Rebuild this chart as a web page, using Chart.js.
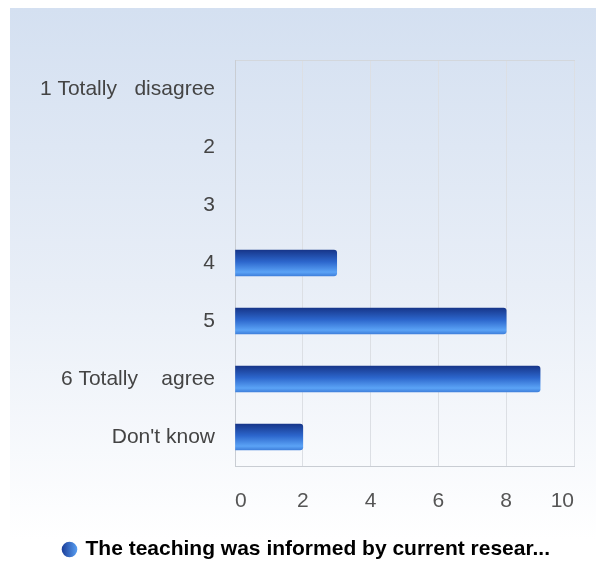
<!DOCTYPE html>
<html>
<head>
<meta charset="utf-8">
<script src="https://cdn.jsdelivr.net/npm/chart.js@4/dist/chart.umd.min.js"></script>
<style>
  html, body { margin: 0; padding: 0; background: #ffffff; overflow: hidden; }
  #bg {
    position: absolute; left: 10px; top: 8px; width: 586px; height: 554px;
    background: linear-gradient(to bottom, #d4e0f1 0%, #e8eef7 50%, #ffffff 96%);
  }
  #chart { position: absolute; left: 0; top: 0; }
</style>
</head>
<body>
<div id="bg"></div>
<canvas id="chart" width="596" height="562"></canvas>
<script>
// data
const categories = ['1 Totally   disagree', '2', '3', '4', '5', '6 Totally    agree', "Don't know"];
const counts = [0, 0, 0, 3, 8, 9, 2];
const seriesName = 'The teaching was informed by current resear...';
const xTicks = [0, 2, 4, 6, 8, 10];

const fontFam = '"Liberation Sans", Arial, sans-serif';

// gradient per bar, built from the y scale position of that row
function barFill(ctx) {
    const chart = ctx.chart;
    const yScale = chart.scales.y;
    if (ctx.raw === 0) return 'rgba(0,0,0,0)';
    if (!yScale || ctx.dataIndex === undefined) return '#2f6fd8';
    const c = yScale.getPixelForValue(ctx.dataIndex);
    const g = chart.ctx.createLinearGradient(0, c - 13, 0, c + 13);
    g.addColorStop(0, '#17368a');
    g.addColorStop(0.45, '#2c66cc');
    g.addColorStop(0.85, '#5ba3f6');
    g.addColorStop(1, '#3f80dc');
    return g;
}

const chart = new Chart(document.getElementById('chart'), {
    type: 'bar',
    data: {
        labels: categories,
        datasets: [{
            label: seriesName,
            data: counts,
            backgroundColor: barFill,
            borderWidth: 0,
            borderRadius: 3,
            barThickness: 26
        }]
    },
    options: {
        indexAxis: 'y',
        responsive: false,
        animation: false,
        layout: { padding: { top: 60, right: 22, left: 40, bottom: -8 } },
        plugins: {
            tooltip: { enabled: false },
            legend: {
                position: 'bottom',
                labels: {
                    usePointStyle: true,
                    pointStyle: 'circle',
                    boxWidth: 11,
                    boxHeight: 11,
                    padding: 18,
                    color: '#333333',
                    font: { family: fontFam, size: 21, weight: 'bold' },
                    generateLabels: (c) => {
                        const g = c.ctx.createLinearGradient(62, 0, 78, 0);
                        g.addColorStop(0, '#1c3f9a');
                        g.addColorStop(1, '#5ba3f6');
                        return [{
                            text: seriesName,
                            fillStyle: g,
                            strokeStyle: 'rgba(0,0,0,0)',
                            lineWidth: 0,
                            pointStyle: 'circle',
                            datasetIndex: 0,
                            hidden: false
                        }];
                    }
                }
            }
        },
        scales: {
            x: {
                min: 0,
                max: 10,
                afterBuildTicks: (s) => { s.ticks = xTicks.map(v => ({ value: v })); },
                afterFit: (s) => { s.height = 55; },
                grid: { color: '#dcdfe4', drawTicks: true, tickLength: 22, tickColor: 'rgba(0,0,0,0)' },
                border: { color: '#c9cdd3' },
                ticks: { color: '#555555', padding: 1, align: 'inner', font: { family: fontFam, size: 21 } }
            },
            x2: {
                axis: 'x',
                position: 'top',
                min: 0,
                max: 10,
                grid: { display: false },
                border: { display: true, color: '#d3d7dc' },
                ticks: { display: false },
                afterFit: (s) => { s.height = 0; }
            },
            y: {
                afterFit: (s) => { s.width = 195; },
                grid: { display: false, drawTicks: false },
                border: { color: '#c9cdd3' },
                ticks: { color: '#444444', padding: 20, font: { family: fontFam, size: 21 } }
            }
        }
    }
});
</script>
</body>
</html>
